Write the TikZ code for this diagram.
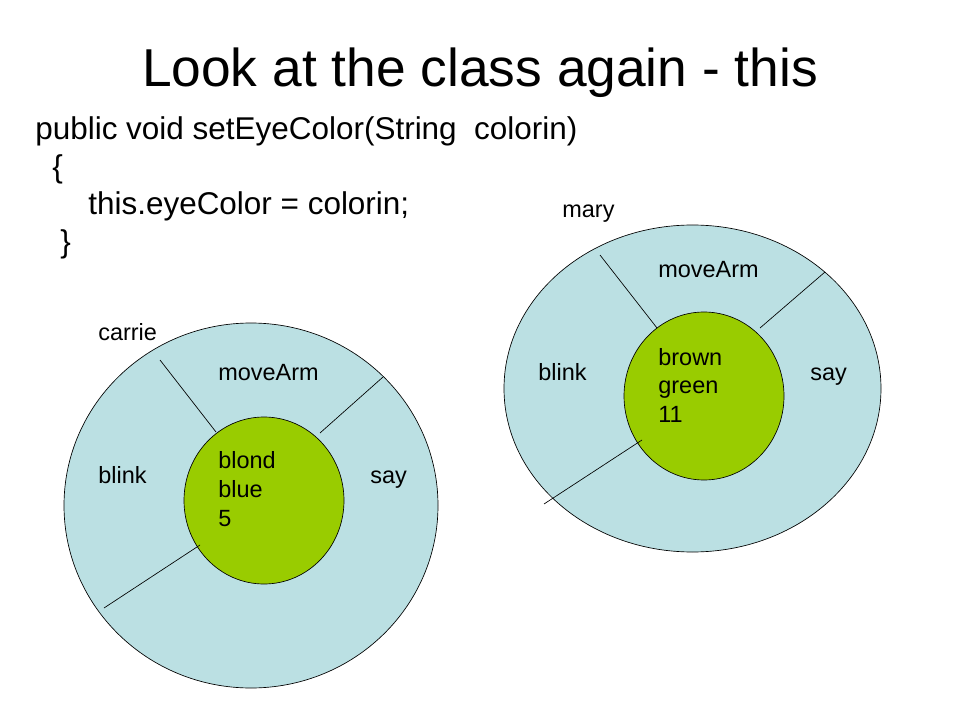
\documentclass[tikz,border=0pt]{standalone}
\usepackage{fontspec}
\setmainfont{Liberation Sans}
\usetikzlibrary{shapes.geometric}
\definecolor{objblue}{RGB}{187,224,227}
\definecolor{fieldgreen}{RGB}{153,204,0}

\begin{document}
\begin{tikzpicture}
  [x=0.75pt,y=-0.75pt,line width=0.5pt,
   titleT/.style={font=\fontsize{40}{48}\selectfont,anchor=base,inner sep=0},
   codeT/.style={font=\fontsize{23.6}{29}\selectfont,anchor=base west,inner sep=0},
   labelT/.style={font=\fontsize{17.6}{22}\selectfont,anchor=base west,inner sep=0},
   objN/.style={draw,ellipse,fill=objblue,inner sep=0,outer sep=0},
   fieldN/.style={draw,ellipse,fill=fieldgreen,inner sep=0,outer sep=0},
  ]
 \useasboundingbox[fill=white] (0,0) rectangle (960,720);

 \node[titleT] (title) at (480,87) {Look at the class again - this};

 \node[codeT] (code1) at (35,140) {public void setEyeColor(String\ \ colorin)};
 \node[codeT] (code2) at (52,178) {\{};
 \node[codeT] (code3) at (88,215) {this.eyeColor = colorin;};
 \node[codeT] (code4) at (60,253) {\}};

 % carrie
 \node[objN,minimum width=280.5pt,minimum height=273.75pt] (carrie) at (251,505.5) {};
 \node[fieldN,minimum width=120pt,minimum height=125.25pt] (carrieF) at (264,500.5) {};
 \draw (160,360) -- (216,432);
 \draw (383,377) -- (320,433);
 \draw (200,545) -- (104,608);
 \node[labelT] (carrieName) at (98,340) {carrie};
 \node[labelT] (carrieMove) at (218,380) {moveArm};
 \node[labelT] (carrieBlink) at (98,483) {blink};
 \node[labelT] (carrieSay) at (370,483) {say};
 \node[labelT] (carrieHair) at (218,468) {blond};
 \node[labelT] (carrieEyes) at (218,497) {blue};
 \node[labelT] (carrieAge) at (218,526) {5};

 % mary
 \node[objN,minimum width=282.75pt,minimum height=245.25pt] (mary) at (692.5,388.5) {};
 \node[fieldN,minimum width=120pt,minimum height=126pt] (maryF) at (704,396) {};
 \draw (600,255) -- (657,328);
 \draw (825,272) -- (760,328);
 \draw (642,440) -- (544,504);
 \node[labelT] (maryName) at (562,218) {mary};
 \node[labelT] (maryMove) at (658,277) {moveArm};
 \node[labelT] (maryBlink) at (538,380) {blink};
 \node[labelT] (marySay) at (810,380) {say};
 \node[labelT] (maryHair) at (658,365) {brown};
 \node[labelT] (maryEyes) at (658,393) {green};
 \node[labelT] (maryAge) at (658,422) {11};
\end{tikzpicture}
\end{document}
